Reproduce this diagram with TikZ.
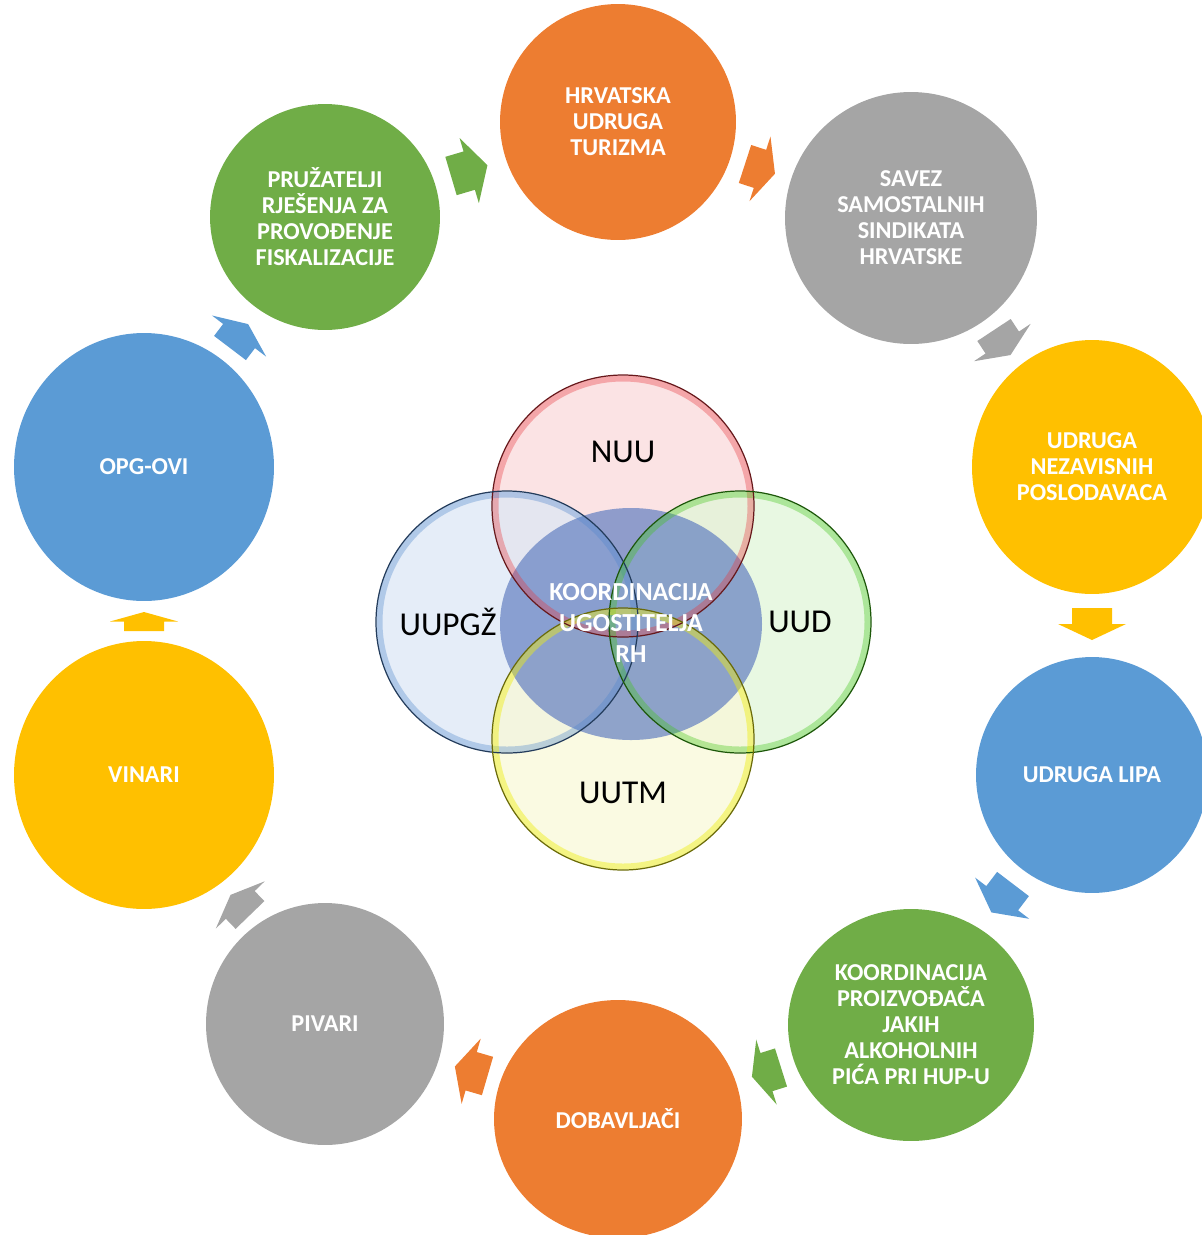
\documentclass[tikz,border=0pt]{standalone}
\usepackage{fontspec}
\setmainfont{Carlito}
\usetikzlibrary{shapes.geometric}
\definecolor{cOrange}{HTML}{ED7D31}
\definecolor{cGray}{HTML}{A5A5A5}
\definecolor{cYellow}{HTML}{FFC000}
\definecolor{cBlue}{HTML}{5B9BD5}
\definecolor{cGreen}{HTML}{70AD47}
\definecolor{vRed}{HTML}{E8363C}
\definecolor{vRedT}{HTML}{FADADB}
\definecolor{vBlue}{HTML}{4F86CC}
\definecolor{vBlueT}{HTML}{DCE7F5}
\definecolor{vGreen}{HTML}{3EC414}
\definecolor{vGreenT}{HTML}{E0F6D8}
\definecolor{vYel}{HTML}{EEEE10}
\definecolor{vYelT}{HTML}{F8F8D8}
\definecolor{vCore}{HTML}{6682C2}
\newcommand\cyclearrow[5]{%
  \fill[#5, shift={(#1,#2)}, rotate=#3]
    (0,20) -- (#4/2,20) -- (#4/2,34) -- (#4,0) -- (#4/2,-34) -- (#4/2,-20) -- (0,-20) -- cycle;}
\begin{document}
\begin{tikzpicture}[x=0.02cm,y=-0.02cm,
  oc/.style={ellipse, draw=none, inner sep=0pt, text=white, align=center,
    font=\fontsize{13.8}{14.8}\selectfont\bfseries},
  vlab/.style={inner sep=0pt, text=black, font=\fontsize{19}{22}\selectfont},
  corelab/.style={inner sep=0pt, text=white, align=center,
    font=\fontsize{14.8}{17.6}\selectfont\bfseries}]
\useasboundingbox (0,0) rectangle (1202,1235);
\begin{scope}
\clip (0,0) rectangle (1202,1235);
% outer cycle circles
\node[oc, fill=cOrange, minimum width=4.72cm, minimum height=4.72cm] (hut) at (618,122) {HRVATSKA\\UDRUGA\\TURIZMA};
\node[oc, fill=cGray, minimum width=5.04cm, minimum height=5.04cm] (sssh) at (911,218) {SAVEZ\\SAMOSTALNIH\\SINDIKATA\\HRVATSKE};
\node[oc, fill=cYellow, minimum width=4.80cm, minimum height=5.08cm] (unp) at (1092,467) {UDRUGA\\NEZAVISNIH\\POSLODAVACA};
\node[oc, fill=cBlue, minimum width=4.64cm, minimum height=4.72cm] (lipa) at (1092,775) {UDRUGA LIPA};
\node[oc, fill=cGreen, minimum width=4.92cm, minimum height=4.64cm] (kpjap) at (911,1025) {KOORDINACIJA\\PROIZVOĐAČA\\JAKIH\\ALKOHOLNIH\\PIĆA PRI HUP-U};
\node[oc, fill=cOrange, minimum width=4.96cm, minimum height=4.76cm] (dob) at (618,1119) {DOBAVLJAČI};
\node[oc, fill=cGray, minimum width=4.76cm, minimum height=4.84cm] (piv) at (325,1024) {PIVARI};
\node[oc, fill=cYellow, minimum width=5.20cm, minimum height=5.36cm] (vin) at (144,775) {VINARI};
\node[oc, fill=cBlue, minimum width=5.20cm, minimum height=5.36cm] (opg) at (144,467) {OPG-OVI};
\node[oc, fill=cGreen, minimum width=4.60cm, minimum height=4.52cm] (prf) at (325,217) {PRUŽATELJI\\RJEŠENJA ZA\\PROVOĐENJE\\FISKALIZACIJE};
\end{scope}
% cycle arrows
\cyclearrow{451}{176}{16.5}{38}{cGreen}
\cyclearrow{745}{164}{-18}{31.5}{cOrange}
\cyclearrow{994}{330}{-56.6}{30}{cGray}
\cyclearrow{1092}{608}{-90}{32}{cYellow}
\cyclearrow{1013}{884}{-127.3}{35.7}{cBlue}
\cyclearrow{781}{1067.5}{-162.5}{30.5}{cGreen}
\cyclearrow{487.5}{1076}{163.7}{34}{cOrange}
\cyclearrow{250}{915}{134}{28}{cGray}
\cyclearrow{144}{631}{90}{19}{cYellow}
\cyclearrow{230}{348}{52.8}{30}{cBlue}
% central venn
\fill[vRedT, fill opacity=0.75] (623,506) circle[radius=131];
\fill[vBlueT, fill opacity=0.75] (507,622) circle[radius=131];
\fill[vGreenT, fill opacity=0.75] (740,622) circle[radius=131];
\fill[vYelT, fill opacity=0.75] (623,739) circle[radius=131];
\fill[vCore, fill opacity=0.72] (631,624) ellipse[x radius=131, y radius=116];
\draw[vRed, line width=0.12cm, draw opacity=0.35] (623,506) circle[radius=127.5];
\draw[vBlue, line width=0.12cm, draw opacity=0.35] (507,622) circle[radius=127.5];
\draw[vGreen, line width=0.12cm, draw opacity=0.35] (740,622) circle[radius=127.5];
\draw[vYel, line width=0.12cm, draw opacity=0.45] (623,739) circle[radius=127.5];
\draw[vRed!45!black, line width=0.7pt] (623,506) circle[radius=131];
\draw[vBlue!45!black, line width=0.7pt] (507,622) circle[radius=131];
\draw[vGreen!45!black, line width=0.7pt] (740,622) circle[radius=131];
\draw[vYel!45!black, line width=0.7pt] (623,739) circle[radius=131];
\node[vlab] (nuu) at (623,452) {NUU};
\node[vlab] (uupgz) at (448,622) {UUPGŽ};
\node[vlab] (uud) at (800,622) {UUD};
\node[vlab] (uutm) at (623,793) {UUTM};
\node[corelab] (kur) at (631,623) {KOORDINACIJA\\UGOSTITELJA\\RH};
\end{tikzpicture}
\end{document}
